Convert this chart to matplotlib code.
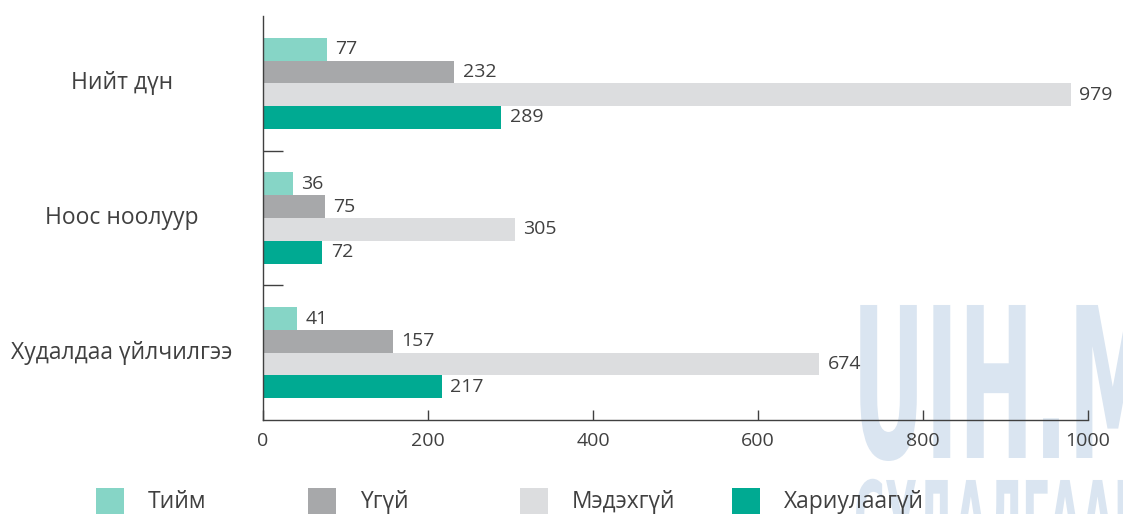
import matplotlib.pyplot as plt
import matplotlib.transforms as mtransforms
from matplotlib.patches import Rectangle, PathPatch
from matplotlib.textpath import TextPath
from matplotlib.font_manager import FontProperties
import numpy as np

# Өгөгдөл
categories = ['Нийт дүн', 'Ноос ноолуур', 'Худалдаа үйлчилгээ']
series = ['Тийм', 'Үгүй', 'Мэдэхгүй', 'Хариулаагүй']
tiim = [77, 36, 41]
ugui = [232, 75, 157]
medehgui = [979, 305, 674]
hariulaagui = [289, 72, 217]
values = [tiim, ugui, medehgui, hariulaagui]
colors = ['#86d5c6', '#a7a8aa', '#dcdddf', '#00aa92']
xticks = [0, 200, 400, 600, 800, 1000]

plt.rcParams['font.family'] = ['Open Sans', 'DejaVu Sans']
txt = '#404040'

W, H = 1123, 514
fig = plt.figure(figsize=(W / 100, H / 100), dpi=100)

# Усан тэмдэг (арын фон)
def watermark(s, x0, y0, cap, sx):
    fp = FontProperties(family='DejaVu Sans', weight='bold')
    tp = TextPath((0, 0), s, size=100, prop=fp)
    sy = cap / 72.9
    tr = (mtransforms.Affine2D().scale(sx, sy).translate(x0, H - y0 - cap)
          + mtransforms.Affine2D().scale(1 / W, 1 / H) + fig.transFigure)
    p = PathPatch(tp, transform=tr, facecolor='#dae5f1', edgecolor='none', zorder=-5)
    fig.add_artist(p)

watermark('UIH.MN', 852, 305, 153, 0.9)
watermark('СУДАЛГААНЫ', 854, 480, 70, 0.42)

ax = fig.add_axes([263 / W, 1 - 420 / H, (1088 - 263) / W, (420 - 16) / H])
ax.set_facecolor('none')

y = np.arange(len(categories))
h = 0.169
for i, (name, vals, c) in enumerate(zip(series, values, colors)):
    pos = y + (i - 1.5) * h
    bars = ax.barh(pos, vals, height=h, color=c, label=name, zorder=2)
    for b, v in zip(bars, vals):
        ax.annotate(str(v), (b.get_width(), b.get_y() + b.get_height() / 2),
                    xytext=(6, 0), textcoords='offset points',
                    va='center', ha='left', fontsize=14, color=txt)

ax.set_xlim(0, 1000)
ax.set_ylim(2.5, -0.5)
ax.set_xticks(xticks)
ax.set_xticklabels([str(t) for t in xticks])
ax.set_yticks(y)
ax.set_yticklabels(categories, ha='center', va='center')
ax.set_yticks([0.5, 1.5], minor=True)

for s in ['top', 'right']:
    ax.spines[s].set_visible(False)
for s in ['left', 'bottom']:
    ax.spines[s].set_color(txt)
    ax.spines[s].set_linewidth(1.0)

ax.tick_params(axis='x', direction='in', length=7.2, width=1.0, color=txt,
               labelsize=14, labelcolor=txt, pad=9)
ax.tick_params(axis='y', which='major', length=0, labelsize=16.5, labelcolor=txt, pad=101.5)
ax.tick_params(axis='y', which='minor', direction='in', length=14.4, width=1.0, color=txt)

# Тайлбар
for i, (name, c) in enumerate(zip(series, colors)):
    x0 = 96 + 212 * i
    fig.add_artist(Rectangle((x0 / W, 1 - 516 / H), 28 / W, 28 / H,
                             transform=fig.transFigure, facecolor=c, edgecolor='none'))
    fig.text((x0 + 52) / W, 1 - 502 / H, name, ha='left', va='center',
             fontsize=16.4, color=txt)

plt.savefig('out.png', dpi=100)
